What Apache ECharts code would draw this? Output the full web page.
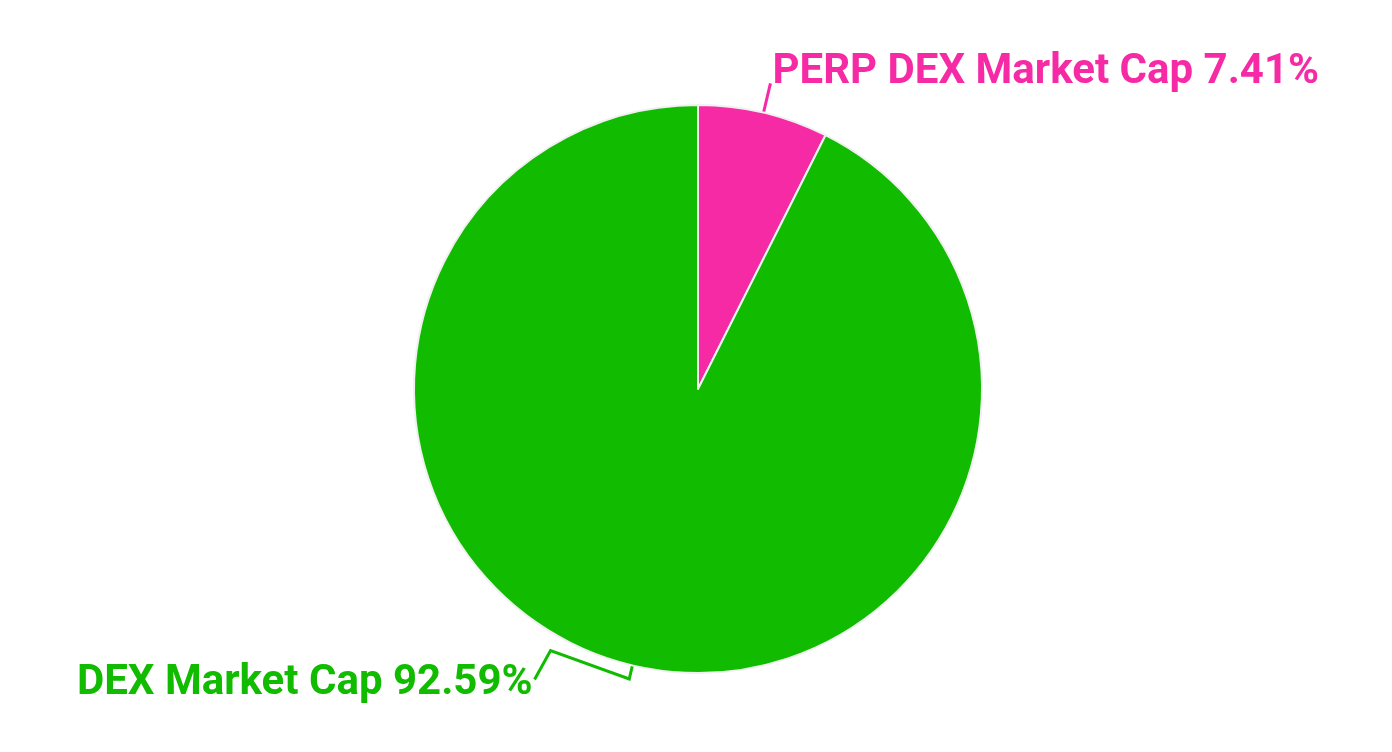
<!DOCTYPE html>
<html>
<head>
<meta charset="utf-8">
<script src="https://cdn.jsdelivr.net/npm/echarts@6/dist/echarts.min.js"></script>
<style>
  html, body { margin: 0; padding: 0; background: #fff; }
  #chart { width: 1392px; height: 752px; }
</style>
</head>
<body>
<div id="chart"></div>
<script>
// Share of market cap: perpetual-futures DEXs vs. all other DEXs
const categories = ['PERP DEX Market Cap', 'DEX Market Cap'];
const shares = [7.41, 92.59];
const colors = ['#f72aa5', '#10bb00'];

// Labels sit a little above the end of their guide line; the large slice's
// label is pulled further left and its guide line bends to reach it.
function layoutLabel(p) {
  const pts = p.labelLinePoints;
  const dy = -11;
  if (p.dataIndex !== 1) {
    return { dy: dy, labelLinePoints: [pts[0], pts[1]] };
  }
  const dx = -91;
  const a = pts[0];
  const b = pts[1];
  const len = Math.hypot(b[0] - a[0], b[1] - a[1]) || 1;
  const stub = [a[0] + (b[0] - a[0]) / len * 14, a[1] + (b[1] - a[1]) / len * 14];
  const r = p.labelRect;
  const rightX = r.x + r.width + dx;
  const midY = r.y + r.height / 2 + dy;
  const end = [rightX + 2, midY - 4];
  const knee = [rightX + 18, midY - 33];
  return { dx: dx, dy: dy, labelLinePoints: [a, stub, knee, end] };
}

const chart = echarts.init(document.getElementById('chart'));
chart.setOption({
  animation: false,
  series: [{
    type: 'pie',
    center: [698, 389],
    radius: 284,
    startAngle: 90,
    clockwise: true,
    avoidLabelOverlap: false,
    data: categories.map((name, i) => ({
      name: name,
      value: shares[i],
      itemStyle: { color: colors[i] },
      label: { color: colors[i] },
      labelLine: { lineStyle: { color: colors[i], width: 3 } }
    })),
    itemStyle: { borderColor: '#f0f0f0', borderWidth: 2 },
    label: {
      show: true,
      formatter: p => p.name + ' ' + p.value.toFixed(2) + '%',
      fontFamily: 'Roboto',
      fontWeight: 'bold',
      fontSize: 42,
      distanceToLabelLine: 2
    },
    labelLine: { show: true, length: 30, length2: 0 },
    labelLayout: layoutLabel
  }]
});
</script>
</body>
</html>
